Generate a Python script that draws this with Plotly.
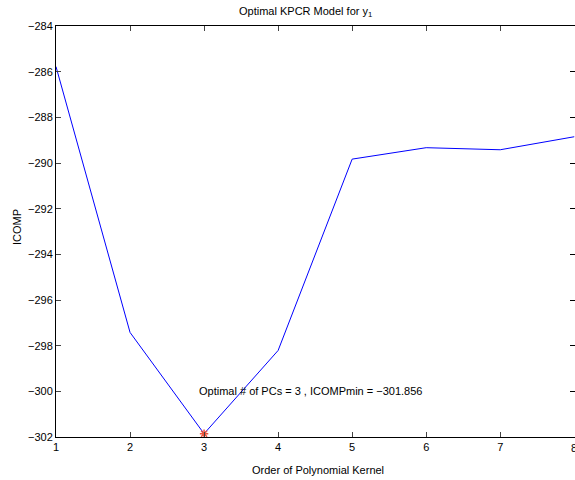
import plotly.graph_objects as go

orders = [1, 2, 3, 4, 5, 6, 7, 8]
icomp = [-285.78, -297.42, -301.856, -298.21, -289.83, -289.33, -289.42, -288.85]
opt_order = [3]
opt_icomp = [-301.856]
x_ticks = [1, 2, 3, 4, 5, 6, 7]
edge_tick = 8
y_ticks = [-284, -286, -288, -290, -292, -294, -296, -298, -300, -302]

FONT = "Liberation Sans, Arial, sans-serif"

fig = go.Figure()
fig.add_trace(go.Scatter(x=orders, y=icomp, mode="lines",
                         line=dict(color="#0000ff", width=1), showlegend=False))
fig.add_trace(go.Scatter(x=opt_order, y=opt_icomp, mode="markers",
                         marker=dict(symbol="asterisk-open", size=7,
                                     line=dict(color="#ff0000", width=1.5)),
                         cliponaxis=False, showlegend=False))
# invisible trace to drive right-hand y ticks
fig.add_trace(go.Scatter(x=orders, y=icomp, yaxis="y2", mode="lines",
                         line=dict(width=0), opacity=0, showlegend=False,
                         hoverinfo="skip"))

fig.update_layout(
    width=575, height=480,
    margin=dict(l=56, r=0, t=26, b=43),
    paper_bgcolor="white", plot_bgcolor="white",
    font=dict(family=FONT, size=11, color="black"),
    xaxis=dict(range=[1, 8.01], tickvals=x_ticks + [edge_tick], ticktext=[str(v) for v in x_ticks] + [""],
               ticks="inside", ticklen=5,
               showline=True, linecolor="black", linewidth=1, mirror="ticks",
               showgrid=False, zeroline=False, tickfont=dict(size=11)),
    yaxis=dict(range=[-302, -284], tickvals=y_ticks, ticks="inside", ticklen=5,
               showline=True, linecolor="black", linewidth=1,
               showgrid=False, zeroline=False, tickfont=dict(size=11)),
    yaxis2=dict(range=[-302, -284], tickvals=y_ticks, ticks="inside", ticklen=5,
                overlaying="y", side="right", showline=False,
                showticklabels=False, showgrid=False, zeroline=False,
                tickcolor="black"),
    annotations=[
        dict(text="Optimal KPCR Model for y<sub>1</sub>", xref="paper", yref="paper",
             x=(305 - 56) / 519, y=1, yshift=5, xanchor="center", yanchor="bottom",
             showarrow=False, font=dict(size=11)),
        dict(text=str(edge_tick), xref="x", yref="paper", x=edge_tick, y=0,
             yshift=-3, xanchor="center", yanchor="top",
             showarrow=False, font=dict(size=11)),
        dict(text="Order of Polynomial Kernel", xref="paper", yref="paper",
             x=(318 - 56) / 519, y=0, yshift=-25, xanchor="center", yanchor="top",
             showarrow=False, font=dict(size=11)),
        dict(text="ICOMP", xref="paper", yref="paper", x=0, xshift=-39,
             y=(437 - 227) / 411, xanchor="center", yanchor="middle",
             textangle=-90, showarrow=False, font=dict(size=11)),
        dict(text="Optimal # of PCs = 3 , ICOMPmin = \u2212301.856", xref="x", yref="y",
             x=2.91, y=-300, xanchor="left", yanchor="middle",
             showarrow=False, font=dict(size=11)),
    ],
)

fig.write_html("out.html")
